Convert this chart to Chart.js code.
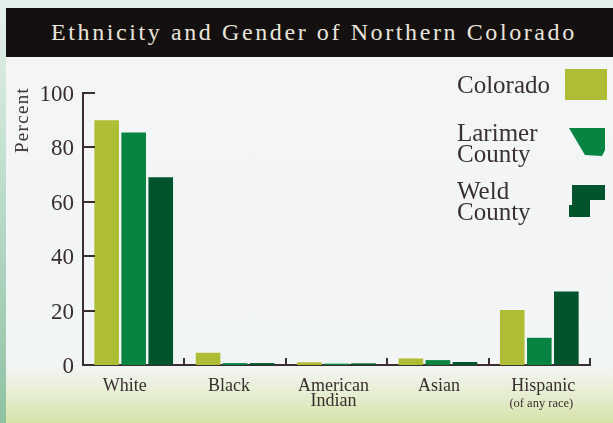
<!DOCTYPE html>
<html>
<head>
<meta charset="utf-8">
<title>Ethnicity and Gender of Northern Colorado</title>
<script src="https://cdn.jsdelivr.net/npm/chart.js@4"></script>
<style>
    html, body { margin: 0; padding: 0; }
    body {
        width: 613px; height: 423px; position: relative; overflow: hidden;
        font-family: "Liberation Serif", serif; color: #3a3030;
        background: linear-gradient(to bottom, #e4f1ea 0%, #bcdccb 45%, #8fc1a2 100%);
    }
    #panel {
        position: absolute; left: 6px; top: 8px; right: 0; bottom: 0;
        background: linear-gradient(to bottom, #f3f5f6 0%, #f2f5f5 86%, #e6eed2 93%, #d5e3a8 100%);
    }
    #header {
        position: absolute; left: 6px; top: 8px; right: 0; height: 49px;
        background: #151010; color: #e9e5dd;
        font-size: 24px; letter-spacing: 2.6px; line-height: 49px; text-indent: 45px;
        white-space: nowrap;
    }
    #chart { position: absolute; left: 0; top: 0; }
    #percent {
        position: absolute; left: 22px; top: 120px; font-size: 19px; letter-spacing: 1.3px;
        transform: translate(-50%, -50%) rotate(-90deg); white-space: nowrap;
    }
    .key { position: absolute; left: 457px; font-size: 25px; line-height: 21px; white-space: nowrap; }
    #shapes { position: absolute; left: 0; top: 0; }
</style>
</head>
<body>
<div id="panel"></div>
<div id="header">Ethnicity and Gender of Northern Colorado</div>
<canvas id="chart" width="613" height="423"></canvas>
<div id="percent">Percent</div>
<div class="key" style="top:74px">Colorado</div>
<div class="key" style="top:122px">Larimer<br>County</div>
<div class="key" style="top:180px">Weld<br>County</div>
<svg id="shapes" width="613" height="423">
    <rect x="565" y="69" width="42" height="31" fill="#aebd33"/>
    <polygon points="569,128 605,128 605,150 602,156 585,155 579,145" fill="#078442"/>
    <polygon points="572,185 605,185 605,200 590,200 590,217 569,217 569,205 572,205" fill="#01542b"/>
</svg>
<script>
// ---------- 数据 ----------
const categories = ['White', 'Black', ['American', 'Indian'], 'Asian', 'Hispanic'];
const coloradoValues = [90, 4.5, 1, 2.4, 20.2];
const larimerValues = [85.5, 0.7, 0.5, 1.8, 10];
const weldValues = [69, 0.7, 0.6, 1.1, 27];
const yTicks = [0, 20, 40, 60, 80, 100];

const inkColor = '#3a2e2e';

// 类别标签和内向刻度
const labelNudge = [-9, -6, -3, 1, 4];
const axisMarks = {
    id: 'axisMarks',
    afterDatasetsDraw(chart) {
        const { ctx, scales: { x, y } } = chart;
        const base = y.getPixelForValue(0);
        ctx.save();
        ctx.strokeStyle = inkColor;
        ctx.lineWidth = 2;
        ctx.beginPath();
        yTicks.slice(1).forEach(v => {
            const py = Math.round(y.getPixelForValue(v));
            ctx.moveTo(x.left, py);
            ctx.lineTo(x.left + 12, py);
        });
        categories.forEach((c, i) => {
            const px = Math.round(x.getPixelForValue(i) + (x.getPixelForValue(1) - x.getPixelForValue(0)) / 2);
            ctx.moveTo(px, base);
            ctx.lineTo(px, base - 7);
        });
        ctx.stroke();

        ctx.fillStyle = inkColor;
        ctx.textAlign = 'center';
        ctx.textBaseline = 'middle';
        ctx.font = '18px "Liberation Serif"';
        categories.forEach((c, i) => {
            const px = x.getPixelForValue(i) + labelNudge[i];
            [].concat(c).forEach((line, n) => ctx.fillText(line, px, 386 + n * 15));
        });
        ctx.font = '12.5px "Liberation Serif"';
        ctx.fillText('(of any race)', x.getPixelForValue(4) + 2, 404);
        ctx.restore();
    }
};

new Chart(document.getElementById('chart'), {
    type: 'bar',
    data: {
        labels: categories,
        datasets: [
            { label: 'Colorado', data: coloradoValues, backgroundColor: '#aebd33' },
            { label: 'Larimer County', data: larimerValues, backgroundColor: '#078442' },
            { label: 'Weld County', data: weldValues, backgroundColor: '#01542b' },
        ]
    },
    options: {
        responsive: false,
        animation: false,
        categoryPercentage: 0.8,
        barPercentage: 0.91,
        layout: { padding: { top: 93, right: 23 } },
        plugins: { legend: { display: false }, tooltip: { enabled: false } },
        scales: {
            x: {
                grid: { display: false },
                border: { color: inkColor, width: 2 },
                ticks: { display: false },
                afterFit: s => { s.height = 58; }
            },
            y: {
                min: 0,
                max: 100,
                afterBuildTicks: s => { s.ticks = yTicks.map(v => ({ value: v })); },
                grid: { display: false },
                border: { color: inkColor, width: 2 },
                ticks: {
                    color: inkColor,
                    padding: 1,
                    labelOffset: 2,
                    font: { family: '"Liberation Serif"', size: 23 }
                },
                afterFit: s => { s.width = 83; }
            }
        }
    },
    plugins: [axisMarks]
});
</script>
</body>
</html>
